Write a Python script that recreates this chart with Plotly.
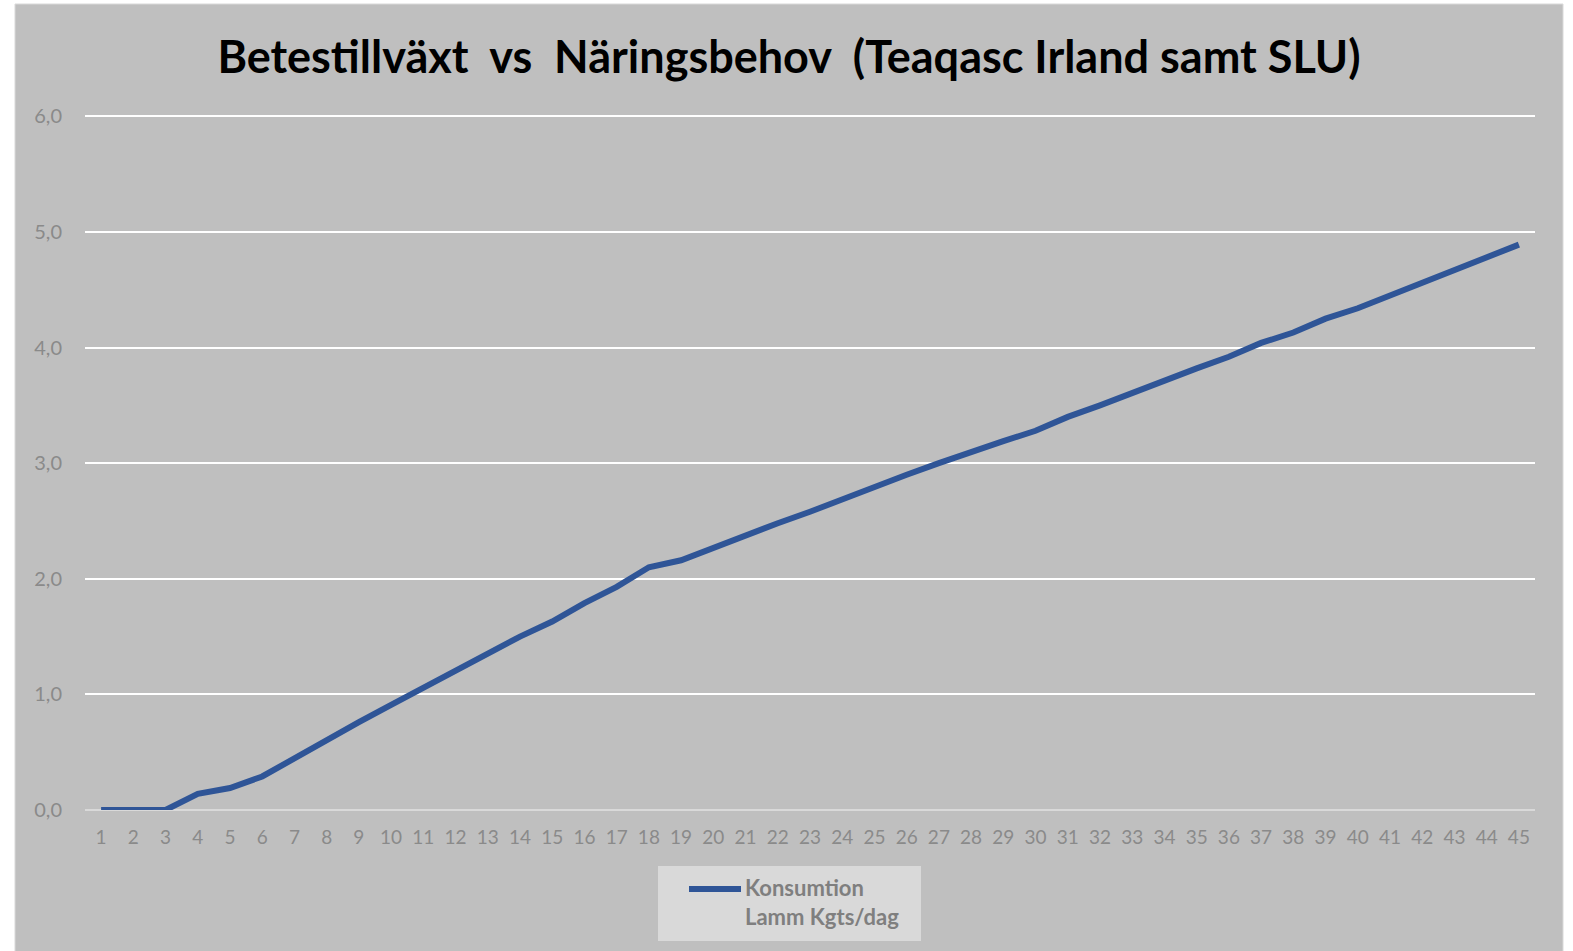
import plotly.graph_objects as go

# Days (category axis) and daily consumption for lambs, kg DM per day
days = [str(d) for d in range(1, 46)]
konsumtion = [
    0.00, 0.00, 0.00, 0.14, 0.19, 0.29, 0.45, 0.61, 0.76, 0.91,
    1.06, 1.21, 1.35, 1.50, 1.63, 1.79, 1.93, 2.10, 2.16, 2.27,
    2.37, 2.48, 2.58, 2.69, 2.79, 2.90, 3.00, 3.10, 3.19, 3.28,
    3.40, 3.50, 3.61, 3.71, 3.82, 3.92, 4.04, 4.13, 4.25, 4.34,
    4.45, 4.55, 4.66, 4.77, 4.89,
]
y_ticks = [0, 1, 2, 3, 4, 5, 6]
series_name = "Konsumtion<br>Lamm Kgts/dag"
title_text = "Betestillväxt\u00a0 vs\u00a0 Näringsbehov\u00a0 (Teaqasc Irland samt SLU)"

W, H = 1573, 951
PL, PR, PT, PB = 85, 1535, 114, 810  # plot area in pixels
Y_MAX = 6.02  # a little headroom so the top gridline is drawn

def px(x):
    return (x - PL) / (PR - PL)

def py(y):
    return (PB - y) / (PB - PT)

LINE_COLOR = "#2f5597"
TICK_COLOR = "#8a8a8a"
FONT = "Lato"

fig = go.Figure()
fig.add_trace(go.Scatter(
    x=days, y=konsumtion, mode="lines", name=series_name,
    line=dict(color=LINE_COLOR, width=6), showlegend=False,
))

shapes = [
    # chart background panel
    dict(type="rect", xref="paper", yref="paper", layer="below",
         x0=px(15), x1=px(1563), y0=py(952), y1=py(4),
         fillcolor="#bfbfbf", line=dict(color="#d9d9d9", width=1)),
    # legend box
    dict(type="rect", xref="paper", yref="paper",
         x0=px(658), x1=px(921), y0=py(941), y1=py(866),
         fillcolor="#d9d9d9", line=dict(width=0)),
    # legend line sample
    dict(type="line", xref="paper", yref="paper",
         x0=px(689), x1=px(741), y0=py(889), y1=py(889),
         line=dict(color=LINE_COLOR, width=6)),
]

annotations = [
    dict(xref="paper", yref="paper", x=px(743), y=py(872),
         xanchor="left", yanchor="top", align="left", showarrow=False,
         text=series_name,
         font=dict(family=FONT, size=22, color="#7f7f7f", weight="bold")),
]

fig.update_layout(
    width=W, height=H,
    margin=dict(l=PL, r=W - PR, t=PT, b=H - PB, pad=0),
    paper_bgcolor="white",
    plot_bgcolor="rgba(0,0,0,0)",
    separators=", ",
    title=dict(text=title_text, xref="container", yref="container",
               x=789 / W, y=1 - 57 / H, xanchor="center", yanchor="middle",
               font=dict(family=FONT, size=45, color="black", weight="bold")),
    shapes=shapes,
    annotations=annotations,
    showlegend=False,
    xaxis=dict(type="category", range=[-0.5, 44.5],
               showgrid=False, showline=False, zeroline=False,
               ticks="", tickfont=dict(family=FONT, size=19, color=TICK_COLOR),
               ticklabelstandoff=14),
    yaxis=dict(range=[0, Y_MAX], tickvals=y_ticks, tickformat=".1f",
               showgrid=True, gridcolor="white", gridwidth=2,
               zeroline=True, zerolinecolor="#d9d9d9", zerolinewidth=2,
               showline=False, ticks="",
               tickfont=dict(family=FONT, size=20, color=TICK_COLOR),
               ticklabelstandoff=22),
)

fig.write_html("out.html")
